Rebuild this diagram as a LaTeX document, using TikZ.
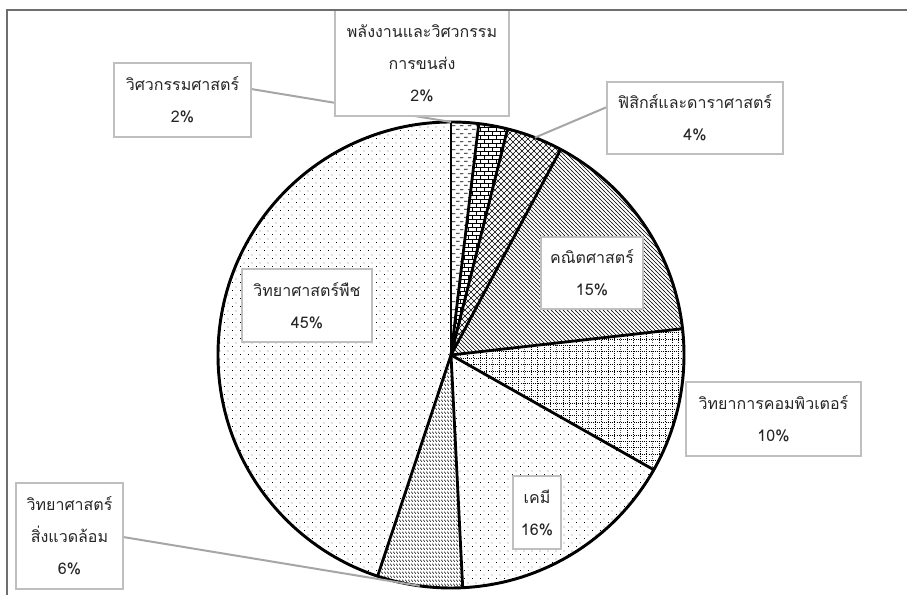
\documentclass[tikz,border=0pt]{standalone}
\usepackage{fontspec}
\newfontfamily\thaifont[Script=Thai]{Loma}
\usetikzlibrary{patterns}

\pgfdeclarepatternformonly{hdashes}{\pgfqpoint{0pt}{0pt}}{\pgfqpoint{6pt}{6pt}}{\pgfqpoint{6pt}{6pt}}{%
  \pgfsetlinewidth{0.6pt}%
  \pgfpathmoveto{\pgfqpoint{0.2pt}{1.5pt}}\pgfpathlineto{\pgfqpoint{3.0pt}{1.5pt}}%
  \pgfpathmoveto{\pgfqpoint{3.2pt}{4.5pt}}\pgfpathlineto{\pgfqpoint{6.0pt}{4.5pt}}%
  \pgfusepath{stroke}}
\pgfdeclarepatternformonly{mybricks}{\pgfqpoint{-0.5pt}{-0.5pt}}{\pgfqpoint{6.5pt}{6.5pt}}{\pgfqpoint{6pt}{6pt}}{%
  \pgfsetlinewidth{0.5pt}%
  \pgfpathmoveto{\pgfqpoint{0pt}{0pt}}\pgfpathlineto{\pgfqpoint{6pt}{0pt}}%
  \pgfpathmoveto{\pgfqpoint{0pt}{3pt}}\pgfpathlineto{\pgfqpoint{6pt}{3pt}}%
  \pgfpathmoveto{\pgfqpoint{0pt}{0pt}}\pgfpathlineto{\pgfqpoint{0pt}{3pt}}%
  \pgfpathmoveto{\pgfqpoint{3pt}{3pt}}\pgfpathlineto{\pgfqpoint{3pt}{6pt}}%
  \pgfusepath{stroke}}
\pgfdeclarepatternformonly{diagcross}{\pgfqpoint{-0.5pt}{-0.5pt}}{\pgfqpoint{5pt}{5pt}}{\pgfqpoint{4.5pt}{4.5pt}}{%
  \pgfsetlinewidth{0.45pt}%
  \pgfpathmoveto{\pgfqpoint{0pt}{0pt}}\pgfpathlineto{\pgfqpoint{4.5pt}{4.5pt}}%
  \pgfpathmoveto{\pgfqpoint{0pt}{4.5pt}}\pgfpathlineto{\pgfqpoint{4.5pt}{0pt}}%
  \pgfusepath{stroke}}
\pgfdeclarepatternformonly{nwdense}{\pgfqpoint{-0.5pt}{-0.5pt}}{\pgfqpoint{3.5pt}{3.5pt}}{\pgfqpoint{3pt}{3pt}}{%
  \pgfsetlinewidth{0.4pt}%
  \pgfpathmoveto{\pgfqpoint{-0.1pt}{3.1pt}}\pgfpathlineto{\pgfqpoint{3.1pt}{-0.1pt}}%
  \pgfusepath{stroke}}
\pgfdeclarepatternformonly{dotgrid}{\pgfqpoint{-0.4pt}{-0.4pt}}{\pgfqpoint{5.2pt}{5.2pt}}{\pgfqpoint{4.8pt}{4.8pt}}{%
  \pgfsetlinewidth{0.55pt}%
  \pgfsetdash{{0.6pt}{1pt}}{0pt}%
  \pgfpathmoveto{\pgfqpoint{0pt}{0pt}}\pgfpathlineto{\pgfqpoint{4.8pt}{0pt}}%
  \pgfpathmoveto{\pgfqpoint{0pt}{0pt}}\pgfpathlineto{\pgfqpoint{0pt}{4.8pt}}%
  \pgfusepath{stroke}}
\pgfdeclarepatternformonly{sparsedots}{\pgfqpoint{0pt}{0pt}}{\pgfqpoint{6pt}{6pt}}{\pgfqpoint{6pt}{6pt}}{%
  \pgfpathrectangle{\pgfqpoint{0pt}{0pt}}{\pgfqpoint{0.75pt}{0.75pt}}%
  \pgfpathrectangle{\pgfqpoint{3pt}{3pt}}{\pgfqpoint{0.75pt}{0.75pt}}%
  \pgfusepath{fill}}
\pgfdeclarepatternformonly{bsdashes}{\pgfqpoint{0pt}{0pt}}{\pgfqpoint{2.25pt}{3.3pt}}{\pgfqpoint{2.25pt}{3.3pt}}{%
  \pgfsetlinewidth{0.5pt}%
  \pgfpathmoveto{\pgfqpoint{0.2pt}{2.8pt}}\pgfpathlineto{\pgfqpoint{1.9pt}{1.1pt}}%
  \pgfusepath{stroke}}

\definecolor{framegray}{HTML}{6E6E6E}
\definecolor{boxgray}{HTML}{BFBFBF}
\definecolor{leadgray}{HTML}{A6A6A6}

\tikzset{
  lbl/.style={draw=boxgray, line width=1.2pt, fill=white, inner sep=0pt, align=center,
    font=\thaifont\fontsize{12}{24}\selectfont, text={black!85}},
  sep/.style={line width=2.1pt, black},
  leader/.style={leadgray, line width=1.5pt},
}

\begin{document}
\begin{tikzpicture}[x=0.75pt,y=0.75pt]
\useasboundingbox (0,0) rectangle (907,595);
\fill[white] (0,0) rectangle (907,595);

\coordinate (C) at (451,240);
% slices (clockwise from top)
\fill[pattern=hdashes]   (C) -- ++(90:233)    arc[start angle=90,    end angle=83.16,  radius=233] -- cycle;
\fill[pattern=mybricks]  (C) -- ++(83.16:233) arc[start angle=83.16, end angle=75.96,  radius=233] -- cycle;
\fill[pattern=diagcross] (C) -- ++(75.96:233) arc[start angle=75.96, end angle=61.92,  radius=233] -- cycle;
\fill[pattern=nwdense]   (C) -- ++(61.92:233) arc[start angle=61.92, end angle=6.48,   radius=233] -- cycle;
\fill[pattern=dotgrid]   (C) -- ++(6.48:233)  arc[start angle=6.48,  end angle=-29.52, radius=233] -- cycle;
\fill[pattern=sparsedots](C) -- ++(-29.52:233) arc[start angle=-29.52, end angle=-87.12, radius=233] -- cycle;
\fill[pattern=bsdashes]  (C) -- ++(-87.12:233) arc[start angle=-87.12, end angle=-108.36, radius=233] -- cycle;
\fill[pattern=sparsedots](C) -- ++(-108.36:233) arc[start angle=-108.36, end angle=-270, radius=233] -- cycle;

\foreach \a in {90,83.16,75.96,61.92,6.48,-29.52,-87.12,-108.36}
  \draw[sep] (C) -- ++(\a:233);
\draw[line width=2.2pt] (C) circle[radius=233];

% leader end points
\path (C) ++(90:233) coordinate (e1);
\path (C) ++(68.9:233) coordinate (e3);
\path (C) ++(-97.74:233) coordinate (e7);
\coordinate (s1) at (251,506);
\coordinate (s3) at (607,488);
\coordinate (s7) at (123,58);
\draw[leader] (s1) -- (e1);
\draw[leader] (s3) -- (e3);
\draw[leader] (s7) -- (e7);

% labels
\node[lbl, minimum width=102.8pt, minimum height=55.5pt] (b1) at (182.5,495) {วิศวกรรมศาสตร์\\2\%};
\node[lbl, minimum width=130.5pt, minimum height=79.5pt] (b2) at (422,532) {พลังงานและวิศวกรรม\\การขนส่ง\\2\%};
\node[lbl, minimum width=132pt, minimum height=54pt] (b3) at (695,477) {ฟิสิกส์และดาราศาสตร์\\4\%};
\node[lbl, minimum width=76.5pt, minimum height=54pt] (b4) at (592,322) {คณิตศาสตร์\\15\%};
\node[lbl, minimum width=131.3pt, minimum height=55.5pt] (b5) at (773.5,176) {วิทยาการคอมพิวเตอร์\\10\%};
\node[lbl, minimum width=36pt, minimum height=54.8pt] (b6) at (537,82.5) {เคมี\\16\%};
\node[lbl, minimum width=80.3pt, minimum height=79.5pt] (b7) at (69.5,59) {วิทยาศาสตร์\\สิ่งแวดล้อม\\6\%};
\node[lbl, minimum width=97.5pt, minimum height=54.8pt] (b8) at (307,289.5) {วิทยาศาสตร์พืช\\45\%};

% outer frame (top and left)
\draw[framegray, line width=1.6pt] (907,585) -- (7,585) -- (7,0);
\end{tikzpicture}
\end{document}
